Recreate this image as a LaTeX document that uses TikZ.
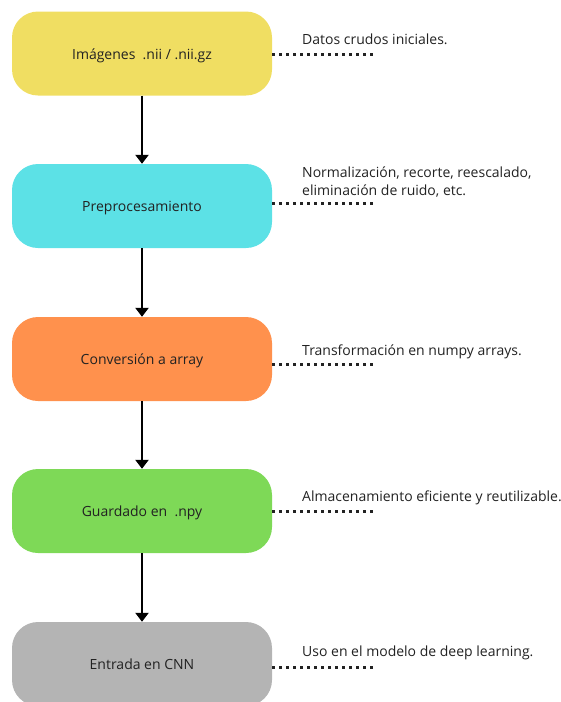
\documentclass[tikz,border=0pt]{standalone}
\usepackage{fontspec}
\setmainfont{Open Sans}
\usetikzlibrary{arrows.meta}
\definecolor{cyel}{HTML}{F0DE62}
\definecolor{ccya}{HTML}{5CE1E6}
\definecolor{cora}{HTML}{FF914D}
\definecolor{cgre}{HTML}{7ED957}
\definecolor{cgra}{HTML}{B4B4B4}
\definecolor{ctxt}{HTML}{222222}
\tikzset{
  stagebox/.style={rounded corners=26pt, minimum width=260pt, minimum height=84pt, inner sep=0pt, text height=11pt, text depth=0pt, text=ctxt, font=\fontsize{14}{17}\selectfont},
  flowarrow/.style={line width=2.8pt, -{Triangle[width=13pt,length=9pt]}},
  dotline/.style={line width=3pt, dash pattern=on 2.6pt off 4.4pt, ctxt},
  note/.style={anchor=base west, inner sep=0pt, align=left, text=ctxt, font=\fontsize{14}{18}\selectfont},
}
\begin{document}
\begin{tikzpicture}[x=1pt,y=1pt]
\useasboundingbox (0,0) rectangle (561,-702);
\begin{scope}
\clip (0,0) rectangle (561,-702);
\node[stagebox, fill=cyel] (b1) at (142,-53.5) {Imágenes\ \ .nii / .nii.gz};
\node[stagebox, fill=ccya] (b2) at (142,-206) {Preprocesamiento};
\node[stagebox, fill=cora] (b3) at (142,-359) {Conversión a array};
\node[stagebox, fill=cgre] (b4) at (142,-511) {Guardado en\ \ .npy};
\node[stagebox, fill=cgra] (b5) at (142,-664) {Entrada en CNN};
\end{scope}
\draw[flowarrow] (b1.south) -- (b2.north);
\draw[flowarrow] (b2.south) -- (b3.north);
\draw[flowarrow] (b3.south) -- (b4.north);
\draw[flowarrow] (b4.south) -- (b5.north);
\coordinate (d1) at (375,-54);
\coordinate (d2) at (375,-203);
\coordinate (d3) at (375,-364);
\coordinate (d4) at (375,-511);
\coordinate (d5) at (375,-667);
\draw[dotline] (b1.east |- d1) -- (d1);
\draw[dotline] (b2.east |- d2) -- (d2);
\draw[dotline] (b3.east |- d3) -- (d3);
\draw[dotline] (b4.east |- d4) -- (d4);
\draw[dotline] (b5.east |- d5) -- (d5);
\node[note] (t1) at (302,-44.3) {Datos crudos iniciales.};
\node[note] (t2) at (302,-195.7) {Normalización, recorte, reescalado,\\eliminación de ruido, etc.};
\node[note] (t3) at (302,-355.7) {Transformación en numpy arrays.};
\node[note] (t4) at (302,-501.7) {Almacenamiento eficiente y reutilizable.};
\node[note] (t5) at (302,-656) {Uso en el modelo de deep learning.};
\end{tikzpicture}
\end{document}
